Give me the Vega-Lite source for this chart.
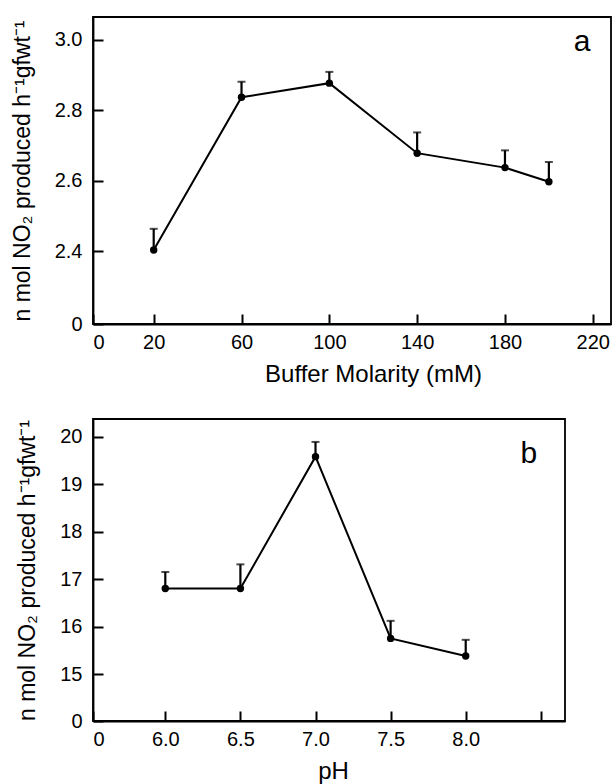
{
  "$schema": "https://vega.github.io/schema/vega-lite/v6.json",
  "background": "white",
  "padding": {"left": 10, "top": 15, "right": 0, "bottom": 0},
  "spacing": 28,
  "config": {
    "font": "Liberation Sans",
    "view": {"stroke": "black", "strokeWidth": 1.8},
    "axis": {
      "grid": false,
      "domainColor": "black",
      "domainWidth": 1.8,
      "tickColor": "black",
      "tickWidth": 2,
      "tickSize": -10,
      "labelColor": "black",
      "labelFont": "Liberation Sans",
      "labelFontSize": 20,
      "labelPadding": 21,
      "titleFont": "Liberation Sans",
      "titleFontSize": 23,
      "titleFontWeight": "normal",
      "titleColor": "black",
      "titlePadding": 10
    },
    "axisX": {"labelPadding": 18, "titleFontSize": 24}
  },
  "vconcat": [
    {
      "width": 518,
      "height": 307,
      "data": {
        "values": [
          {"molarity": 20, "rate": 2.403, "upper": 2.463},
          {"molarity": 60, "rate": 2.837, "upper": 2.881},
          {"molarity": 100, "rate": 2.877, "upper": 2.909},
          {"molarity": 140, "rate": 2.678, "upper": 2.737},
          {"molarity": 180, "rate": 2.637, "upper": 2.686},
          {"molarity": 200, "rate": 2.597, "upper": 2.653}
        ]
      },
      "layer": [
        {
          "mark": {"type": "line", "color": "black", "strokeWidth": 2},
          "encoding": {
            "x": {
              "field": "molarity",
              "type": "quantitative",
              "scale": {"domain": [0, 20, 228.3], "range": [0, 60.7, 518], "nice": false, "zero": false},
              "axis": {"values": [0, 20, 60, 100, 140, 180, 220], "title": "Buffer Molarity (mM)", "titleX": 280}
            },
            "y": {
              "field": "rate",
              "type": "quantitative",
              "scale": {"domain": [0, 2.4, 3.065], "range": [307, 234, 0], "nice": false, "zero": false},
              "axis": {
                "values": [0, 2.4, 2.6, 2.8, 3.0],
                "labelExpr": "datum.value == 0 ? '0' : format(datum.value, '.1f')",
                "title": "n mol NO₂  produced h⁻¹gfwt⁻¹",
                "titlePadding": 20
              }
            }
          }
        },
        {
          "mark": {"type": "rule", "color": "black", "strokeWidth": 2.2},
          "encoding": {
            "x": {"field": "molarity", "type": "quantitative"},
            "y": {"field": "rate", "type": "quantitative"},
            "y2": {"field": "upper"}
          }
        },
        {
          "mark": {"type": "tick", "color": "black", "orient": "horizontal", "size": 8, "thickness": 2},
          "encoding": {
            "x": {"field": "molarity", "type": "quantitative"},
            "y": {"field": "upper", "type": "quantitative"}
          }
        },
        {
          "mark": {"type": "point", "filled": true, "color": "black", "opacity": 1, "size": 55},
          "encoding": {
            "x": {"field": "molarity", "type": "quantitative"},
            "y": {"field": "rate", "type": "quantitative"}
          }
        },
        {
          "data": {"values": [{"panel": "a"}]},
          "mark": {"type": "text", "fontSize": 30, "font": "Liberation Sans", "fill": "black", "align": "center", "baseline": "alphabetic"},
          "encoding": {
            "x": {"datum": 215.1, "type": "quantitative"},
            "y": {"datum": 2.967, "type": "quantitative"},
            "text": {"field": "panel", "type": "nominal"}
          }
        }
      ]
    },
    {
      "width": 472,
      "height": 302,
      "data": {
        "values": [
          {"pH": 6.0, "rate": 16.80, "upper": 17.15},
          {"pH": 6.5, "rate": 16.80, "upper": 17.31},
          {"pH": 7.0, "rate": 19.58, "upper": 19.89},
          {"pH": 7.5, "rate": 15.75, "upper": 16.12},
          {"pH": 8.0, "rate": 15.38, "upper": 15.72}
        ]
      },
      "layer": [
        {
          "mark": {"type": "line", "color": "black", "strokeWidth": 2},
          "encoding": {
            "x": {
              "field": "pH",
              "type": "quantitative",
              "scale": {"domain": [0, 6, 8.661], "range": [0, 72.3, 472], "nice": false, "zero": false},
              "axis": {
                "values": [0, 6, 6.5, 7, 7.5, 8, 8.5],
                "labelExpr": "datum.value == 0 ? '0' : (datum.value > 8.4 ? '' : format(datum.value, '.1f'))",
                "title": "pH",
                "titleX": 240
              }
            },
            "y": {
              "field": "rate",
              "type": "quantitative",
              "scale": {"domain": [0, 15, 20.373], "range": [302, 255, 0], "nice": false, "zero": false},
              "axis": {
                "values": [0, 15, 16, 17, 18, 19, 20],
                "title": "n mol NO₂  produced h⁻¹gfwt⁻¹",
                "titlePadding": 20
              }
            }
          }
        },
        {
          "mark": {"type": "rule", "color": "black", "strokeWidth": 2.2},
          "encoding": {
            "x": {"field": "pH", "type": "quantitative"},
            "y": {"field": "rate", "type": "quantitative"},
            "y2": {"field": "upper"}
          }
        },
        {
          "mark": {"type": "tick", "color": "black", "orient": "horizontal", "size": 8, "thickness": 2},
          "encoding": {
            "x": {"field": "pH", "type": "quantitative"},
            "y": {"field": "upper", "type": "quantitative"}
          }
        },
        {
          "mark": {"type": "point", "filled": true, "color": "black", "opacity": 1, "size": 55},
          "encoding": {
            "x": {"field": "pH", "type": "quantitative"},
            "y": {"field": "rate", "type": "quantitative"}
          }
        },
        {
          "data": {"values": [{"panel": "b"}]},
          "mark": {"type": "text", "fontSize": 30, "font": "Liberation Sans", "fill": "black", "align": "center", "baseline": "alphabetic"},
          "encoding": {
            "x": {"datum": 8.421, "type": "quantitative"},
            "y": {"datum": 19.44, "type": "quantitative"},
            "text": {"field": "panel", "type": "nominal"}
          }
        }
      ]
    }
  ]
}
